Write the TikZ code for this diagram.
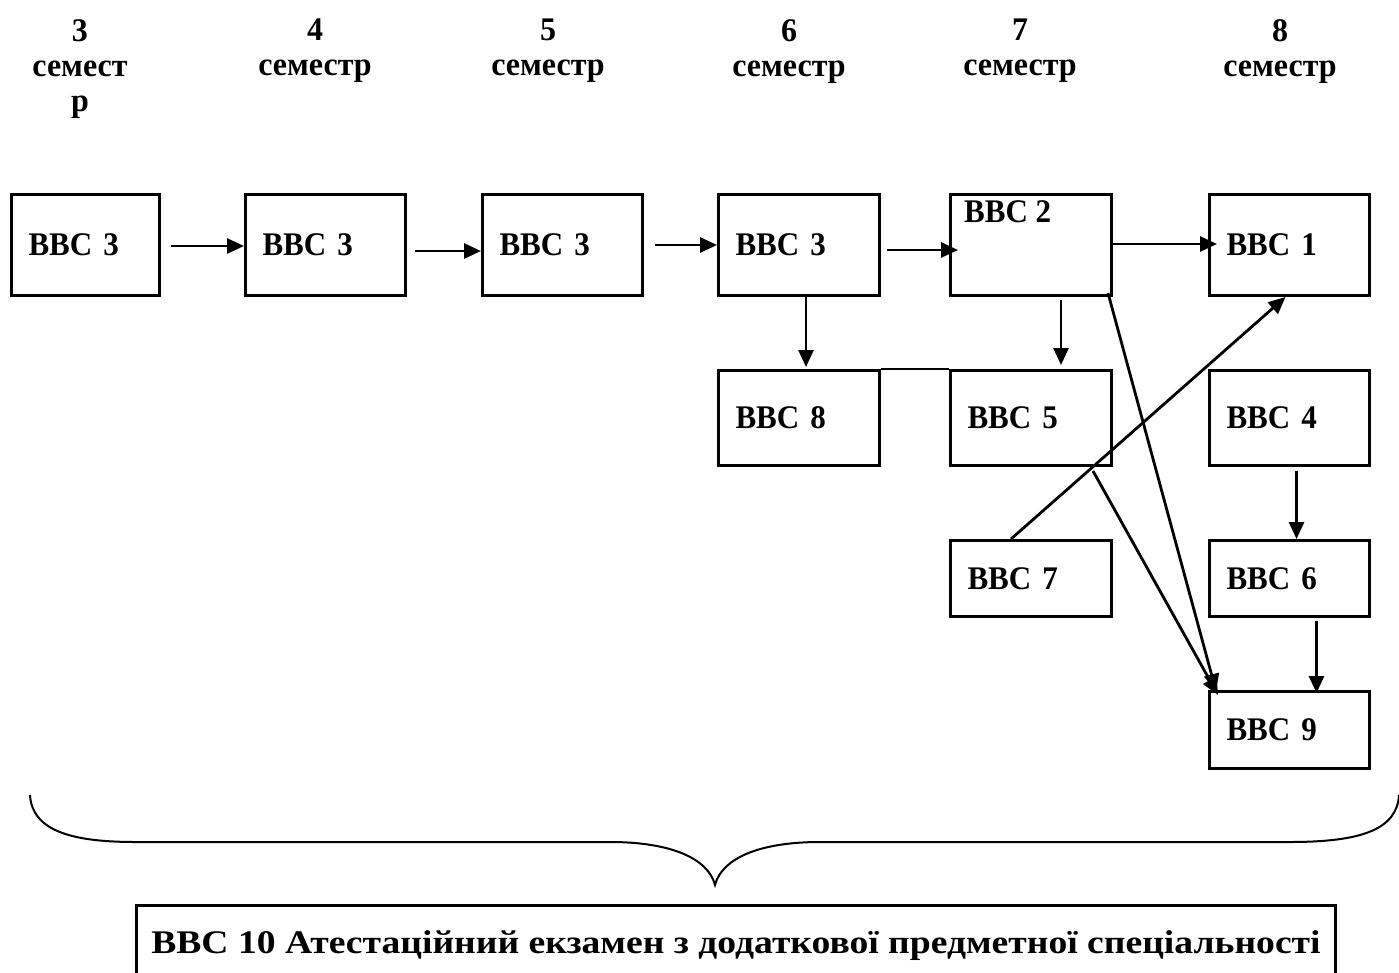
\documentclass[tikz,border=0pt]{standalone}
\usepackage{fontspec}
\setmainfont{Liberation Serif}
\newfontfamily\boxfnt[FakeStretch=0.94]{Liberation Serif}
\newfontfamily\hdrfnt[FakeStretch=0.97]{Liberation Serif}
\newfontfamily\botfnt[FakeStretch=1.14]{Liberation Serif}
\usetikzlibrary{arrows.meta}
\begin{document}
\begin{tikzpicture}[x=1pt,y=-1pt,
  txt/.style={font=\boxfnt\bfseries\fontsize{33}{36}\selectfont},
  box/.style={draw, line width=3pt, anchor=north west, inner xsep=17pt, inner ysep=0pt,
    align=left, txt},
  hdr/.style={anchor=north, inner sep=0pt, align=center, font=\hdrfnt\bfseries\fontsize{33}{35}\selectfont},
  arr/.style={line width=2.8pt, -{Triangle[length=17pt,width=15pt]}},
  ln/.style={line width=2.8pt}]
\useasboundingbox (0,0) rectangle (1399,973);
% headers
\node[hdr] (h3) at (80,19) {3\\семест\\р};
\node[hdr] (h4) at (315,19) {4\\семестр};
\node[hdr] (h5) at (548,19) {5\\семестр};
\node[hdr] (h6) at (789,19) {6\\семестр};
\node[hdr] (h7) at (1020,19) {7\\семестр};
\node[hdr] (h8) at (1280,19) {8\\семестр};
% row 1
\node[box, text width=114pt, minimum height=101pt] (a1) at (10,193) {ВВС 3};
\node[box, text width=126pt, minimum height=101pt] (a2) at (244,193) {ВВС 3};
\node[box, text width=126pt, minimum height=101pt] (a3) at (481,193) {ВВС 3};
\node[box, text width=127pt, minimum height=101pt] (a4) at (717,193) {ВВС 3};
\node[box, text width=127pt, minimum height=101pt] (b2) at (949,193) {};
\node[txt, anchor=north west, inner sep=0pt] (b2t) at (964,200) {ВВС 2};
\node[box, text width=126pt, minimum height=101pt] (b1) at (1208,193) {ВВС 1};
% row 2
\node[box, text width=127pt, minimum height=95pt] (b8) at (717,369) {ВВС 8};
\node[box, text width=127pt, minimum height=95pt] (b5) at (949,369) {ВВС 5};
\node[box, text width=126pt, minimum height=95pt] (b4) at (1208,369) {ВВС 4};
% row 3
\node[box, text width=127pt, minimum height=76pt] (b7) at (949,539) {ВВС 7};
\node[box, text width=126pt, minimum height=76pt] (b6) at (1208,539) {ВВС 6};
% row 4
\node[box, text width=126pt, minimum height=77pt] (b9) at (1208,690) {ВВС 9};
% arrows
\draw[arr] ([xshift=10pt,yshift=-1pt]a1.east) -- ([yshift=-1pt]a2.west);
\draw[arr] ([xshift=8pt,yshift=-6pt]a2.east) -- ([yshift=-6pt]a3.west);
\draw[arr] ([xshift=11pt]a3.east) -- (a4.west);
\draw[arr] ([xshift=6pt,yshift=-5pt]a4.east) -- ([xshift=9pt,yshift=-5pt]b2.west);
\draw[arr] ([xshift=-3pt,yshift=1pt]b2.east) -- ([xshift=9pt,yshift=1pt]b1.west);
\draw[arr] ([xshift=7pt]a4.south) -- ([xshift=7pt,yshift=2pt]b8.north);
\draw[arr] ([xshift=30pt,yshift=-3pt]b2.south) -- ([xshift=30pt,yshift=4pt]b5.north);
\draw[ln] (b8.north east) -- (b5.north west);
\draw[arr] ([xshift=7pt,yshift=-4pt]b4.south) -- ([xshift=7pt]b6.north);
\draw[arr] ([xshift=27pt,yshift=-3pt]b6.south) -- ([xshift=27pt,yshift=-3pt]b9.north);
\draw[arr] ([xshift=-20pt]b7.north) -- ([xshift=-4pt]b1.south);
\draw[arr] ([xshift=-5pt,yshift=4pt]b2.south east) -- ([xshift=8pt,yshift=-1pt]b9.north west);
\draw[arr] ([xshift=-20pt,yshift=-4pt]b5.south east) -- ([xshift=10pt,yshift=-5pt]b9.north west);
% brace
\draw[line width=2pt] (30,795) .. controls (32,830) and (70,842) .. (135,842) -- (610,842)
  .. controls (670,842) and (708,858) .. (715,885)
  .. controls (722,858) and (760,842) .. (820,842) -- (1290,842)
  .. controls (1360,842) and (1397,830) .. (1399,795);
% exam box
\node[anchor=base, inner sep=0pt, font=\botfnt\bfseries\fontsize{33}{36}\selectfont] (exam) at (736,953) {ВВС 10 Атестаційний екзамен з додаткової предметної спеціальності};
\draw[line width=3pt] (136,973) -- (136,905) -- (1335,905) -- (1335,973);
\end{tikzpicture}
\end{document}
